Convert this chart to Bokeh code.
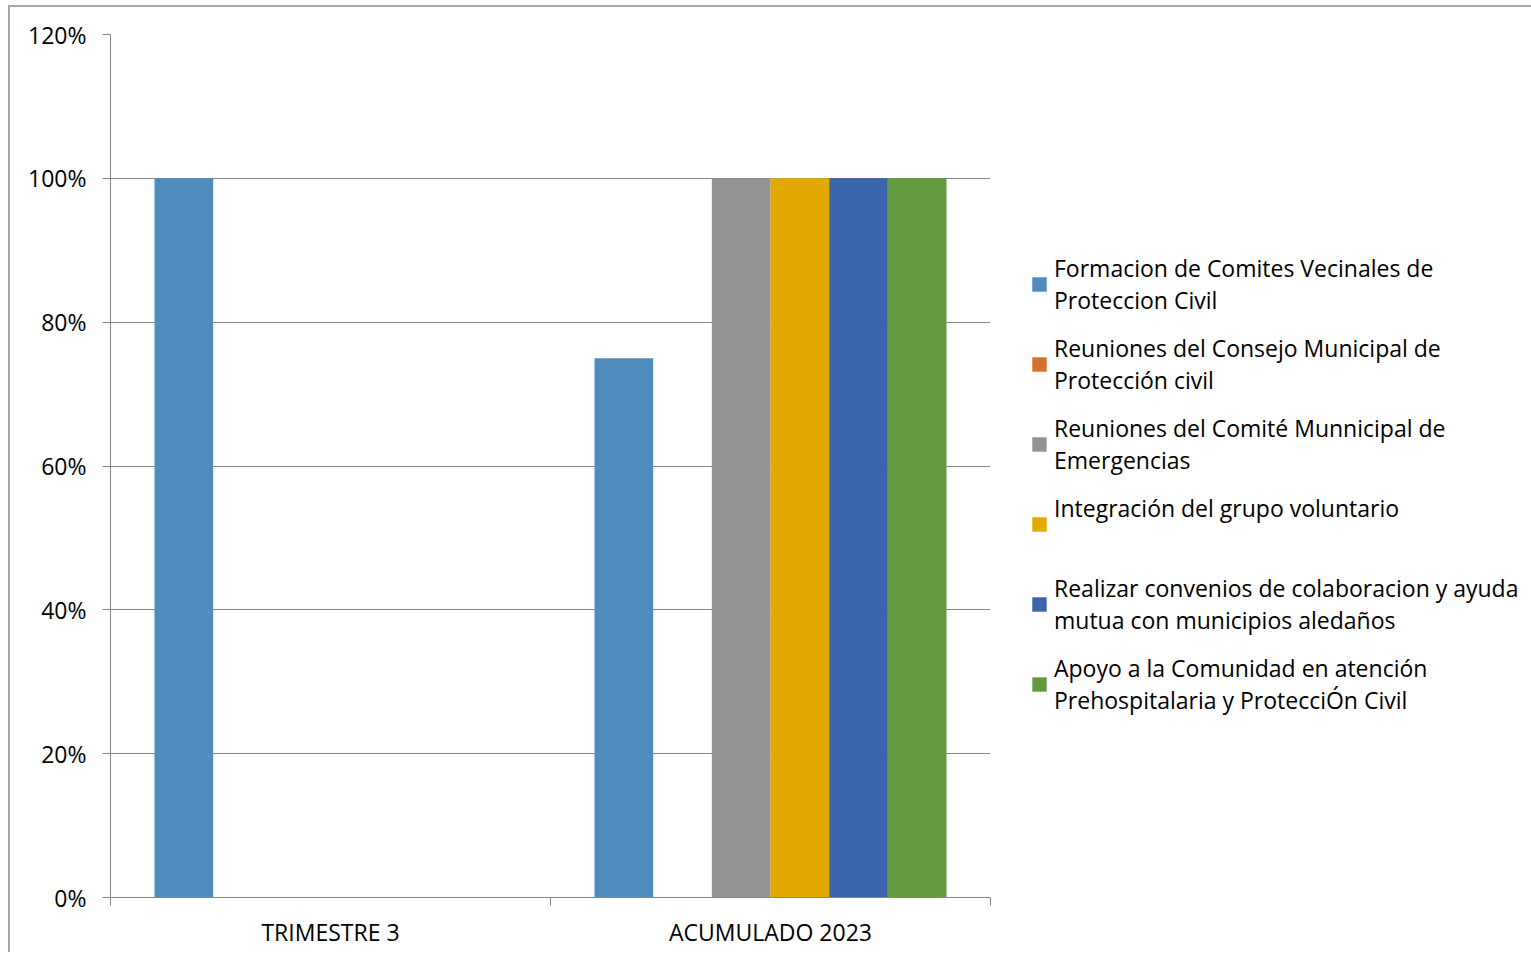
from bokeh.plotting import figure
from bokeh.models import Range1d, FixedTicker, NumeralTickFormatter, Legend, LegendItem
from bokeh.embed import file_html
from bokeh.resources import INLINE

categories = ["TRIMESTRE 3", "ACUMULADO 2023"]
series_names = [
    "Formacion de Comites Vecinales de\nProteccion Civil",
    "Reuniones del Consejo Municipal de\nProtección civil",
    "Reuniones del Comité Munnicipal de\nEmergencias",
    "Integración del grupo voluntario\n ",
    "Realizar convenios de colaboracion y ayuda\nmutua con municipios aledaños",
    "Apoyo a la Comunidad en atención\nPrehospitalaria y ProtecciÓn Civil",
]
s1 = [1.00, 0.75]
s2 = [0.00, 0.00]
s3 = [0.00, 1.00]
s4 = [0.00, 1.00]
s5 = [0.00, 1.00]
s6 = [0.00, 1.00]
series_values = [s1, s2, s3, s4, s5, s6]
colors = ["#4F8BBD", "#D4702B", "#939393", "#E2AA00", "#3C64AD", "#629B3F"]
y_ticks = [0, 0.2, 0.4, 0.6, 0.8, 1.0, 1.2]

FONT = "Open Sans"
GRID = "#868686"

n = len(series_names)
gap = 1.5
bar_w = 1.0 / (n + gap)

p = figure(frame_width=880, frame_height=863,
           x_range=Range1d(0, len(categories)), y_range=Range1d(0, 1.2),
           min_border_left=100, min_border_top=27, min_border_bottom=55,
           min_border_right=20,
           output_backend="svg", toolbar_location=None)
p.styles = {"border-left": "2px solid #a6a6a6", "border-top": "2px solid #a6a6a6",
            "margin-left": "8px", "margin-top": "5px"}
p.outline_line_color = None
p.background_fill_color = "white"
p.border_fill_color = "white"

centers = [i + 0.5 for i in range(len(categories))]
renderers = []
for j, (vals, col) in enumerate(zip(series_values, colors)):
    xs = [c + (j - (n - 1) / 2) * bar_w for c in centers]
    r = p.vbar(x=xs, top=vals, bottom=0, width=bar_w, fill_color=col, line_color=None)
    renderers.append(r)

# y axis
p.yaxis.ticker = FixedTicker(ticks=y_ticks)
p.yaxis.formatter = NumeralTickFormatter(format="0%")
p.yaxis.axis_line_color = GRID
p.yaxis.major_tick_line_color = GRID
p.yaxis.major_tick_out = 8
p.yaxis.major_tick_in = 0
p.yaxis.minor_tick_line_color = None
p.yaxis.major_label_text_font = FONT
p.yaxis.major_label_text_font_size = "23px"
p.yaxis.major_label_text_color = "#000000"
p.yaxis.major_label_standoff = 16

# x axis
p.xaxis.ticker = FixedTicker(ticks=centers, minor_ticks=[0, 1, 2])
p.xaxis.major_label_overrides = {c: name for c, name in zip(centers, categories)}
p.xaxis.axis_line_color = GRID
p.xaxis.major_tick_line_color = None
p.xaxis.major_tick_out = 0
p.xaxis.major_tick_in = 0
p.xaxis.minor_tick_line_color = GRID
p.xaxis.minor_tick_out = 8
p.xaxis.minor_tick_in = 0
p.xaxis.major_label_text_font = FONT
p.xaxis.major_label_text_font_size = "23px"
p.xaxis.major_label_text_color = "#000000"
p.xaxis.major_label_standoff = 10

p.xgrid.visible = False
p.ygrid.ticker = FixedTicker(ticks=y_ticks)
p.ygrid.grid_line_color = GRID
p.ygrid.grid_line_width = 1

items = [LegendItem(label=name, renderers=[r]) for name, r in zip(series_names, renderers)]
legend = Legend(items=items, location=(40, 181), orientation="vertical")
legend.label_text_font = FONT
legend.label_text_font_size = "23px"
legend.label_text_color = "#000000"
legend.glyph_width = 18
legend.glyph_height = 18
legend.label_standoff = 6
legend.spacing = 16
legend.padding = 0
legend.margin = 0
legend.border_line_color = None
legend.background_fill_alpha = 0
p.add_layout(legend, "right")

open("out.html", "w").write(file_html(p, INLINE))
